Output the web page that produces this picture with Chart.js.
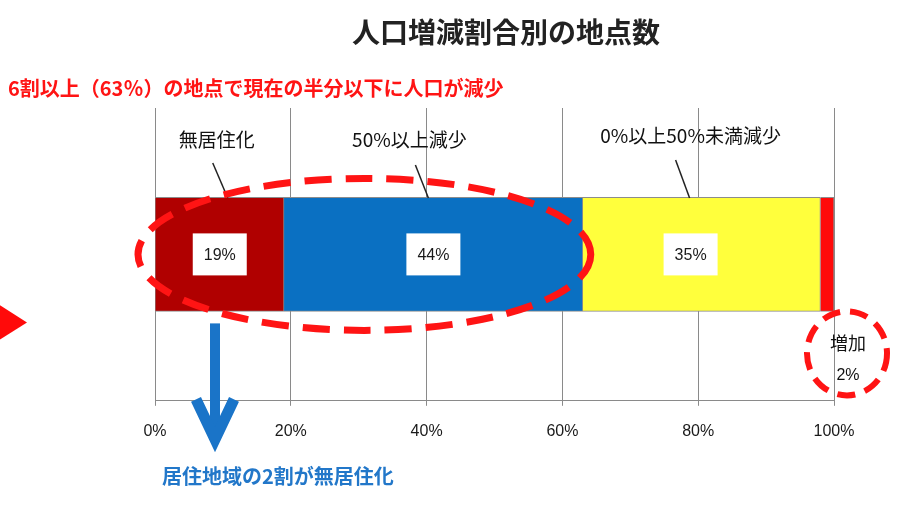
<!DOCTYPE html>
<html lang="ja">
<head>
  <meta charset="UTF-8">
  <title>人口増減割合別の地点数</title>
  <script src="https://cdn.jsdelivr.net/npm/chart.js"></script>
  <style>
    html, body { margin: 0; padding: 0; background: #fff; }
  </style>
</head>
<body>
  <canvas id="popChart" width="903" height="513"></canvas>

  <script>
    const categories = [''];
    const seriesNames = ['無居住化', '50%以上減少', '0%以上50%未満減少', '増加'];
    const seriesValues = [19, 44, 35, 2];
    const seriesColors = ['#b00000', '#0a70c2', '#ffff3c', '#ff0a0a'];
    const xTicks = [0, 20, 40, 60, 80, 100];

    const titleText = '人口増減割合別の地点数';
    const redNote = '6割以上（63％）の地点で現在の半分以下に人口が減少';
    const blueNote = '居住地域の2割が無居住化';
    const increaseNote = ['増加', '2%'];

    const JP = '"Noto Sans CJK JP", "Noto Sans", sans-serif';
    const LAT = '"Liberation Sans", Arial, sans-serif';

    // callouts: label offset from the segment centre, and leader line ends
    const callouts = [
      { dx: -3, y: 140, line: [-7, 163, 8, 198] },
      { dx: -24, y: 140, line: [-18, 165, -5, 198] },
      { dx: -11, y: 136, line: [-26, 160, -12, 198] },
    ];
    const valueBoxShift = [0, 0, -11];

    const overlay = {
      id: 'overlay',
      afterDatasetsDraw(chart) {
        const ctx = chart.ctx;
        const xs = chart.scales.x;
        ctx.save();

        // value boxes and callouts
        seriesValues.forEach((v, i) => {
          if (i >= callouts.length) return;
          const bar = chart.getDatasetMeta(i).data[0];
          const cx = (bar.x + bar.base) / 2;
          const bx = cx + valueBoxShift[i];
          const cy = bar.y;

          ctx.fillStyle = '#fff';
          ctx.fillRect(bx - 27, cy - 21, 54, 42);
          ctx.fillStyle = '#1a1a1a';
          ctx.font = '16px ' + LAT;
          ctx.textAlign = 'center';
          ctx.textBaseline = 'middle';
          ctx.fillText(v + '%', bx, cy + 1);

          const c = callouts[i];
          ctx.font = '19px ' + JP;
          ctx.fillStyle = '#111';
          ctx.fillText(seriesNames[i], cx + c.dx, c.y);
          ctx.strokeStyle = '#222';
          ctx.lineWidth = 1.5;
          ctx.beginPath();
          ctx.moveTo(cx + c.line[0], c.line[1]);
          ctx.lineTo(cx + c.line[2], c.line[3]);
          ctx.stroke();
        });

        const bar0 = chart.getDatasetMeta(0).data[0];
        const half = bar0.height / 2;
        const bottom = bar0.y + half;

        // dashed ellipse round the two heavy-loss segments
        ctx.strokeStyle = '#ff1414';
        ctx.lineWidth = 7;
        ctx.setLineDash([27, 14]);
        const left = xs.getPixelForValue(0) - 17;
        const right = xs.getPixelForValue(seriesValues[0] + seriesValues[1]) + 8;
        ctx.beginPath();
        ctx.ellipse((left + right) / 2, bar0.y, (right - left) / 2, half + 19, 0, 0, Math.PI * 2);
        ctx.stroke();

        // dashed circle round the increase note
        const ix = xs.getPixelForValue(100) + 13;
        const iy = bottom + 42;
        ctx.setLineDash([18, 10]);
        ctx.lineWidth = 6;
        ctx.beginPath();
        ctx.ellipse(ix, iy, 40, 42, 0, 0, Math.PI * 2);
        ctx.stroke();
        ctx.setLineDash([]);
        ctx.fillStyle = '#111';
        ctx.font = '18px ' + JP;
        ctx.textAlign = 'center';
        ctx.fillText(increaseNote[0], ix + 1, iy - 10);
        ctx.font = '16px ' + LAT;
        ctx.fillText(increaseNote[1], ix + 1, iy + 22);

        // blue arrow under the first segment
        const ax = xs.getPixelForValue(0) + 60;
        ctx.strokeStyle = '#1a74c8';
        ctx.fillStyle = '#1a74c8';
        ctx.fillRect(ax - 5, bottom + 12, 10, 118);
        ctx.lineWidth = 11;
        ctx.lineJoin = 'miter';
        ctx.beginPath();
        ctx.moveTo(ax - 19, bottom + 88);
        ctx.lineTo(ax, bottom + 128);
        ctx.lineTo(ax + 19, bottom + 88);
        ctx.stroke();

        // red pointer on the left edge
        ctx.fillStyle = '#ff0a0a';
        ctx.beginPath();
        ctx.moveTo(-6, bar0.y + 47);
        ctx.lineTo(27, bar0.y + 68);
        ctx.lineTo(-6, bar0.y + 89);
        ctx.closePath();
        ctx.fill();

        // headings and notes
        ctx.textBaseline = 'middle';
        ctx.fillStyle = '#222';
        ctx.font = 'bold 28px ' + JP;
        ctx.textAlign = 'center';
        ctx.fillText(titleText, 506, 32);

        ctx.textAlign = 'left';
        ctx.fillStyle = '#ff1414';
        ctx.font = 'bold 20px ' + JP;
        ctx.fillText(redNote, 8, 88);

        ctx.fillStyle = '#2277c9';
        ctx.font = 'bold 20px ' + JP;
        ctx.fillText(blueNote, 162, 476);

        ctx.restore();
      }
    };

    new Chart(document.getElementById('popChart').getContext('2d'), {
      type: 'bar',
      data: {
        labels: categories,
        datasets: seriesNames.map((name, i) => ({
          label: name,
          data: [seriesValues[i]],
          backgroundColor: seriesColors[i],
          borderColor: '#8c8c8c',
          borderWidth: 1,
          barThickness: 114,
        })),
      },
      options: {
        indexAxis: 'y',
        responsive: false,
        animation: false,
        layout: { padding: { left: 155, right: 69, top: 108, bottom: 56 } },
        plugins: {
          legend: { display: false },
          tooltip: { enabled: false },
        },
        scales: {
          x: {
            stacked: true,
            min: 0,
            max: 100,
            afterBuildTicks: (scale) => { scale.ticks = xTicks.map(v => ({ value: v })); },
            ticks: {
              callback: (v) => v + '%',
              color: '#1a1a1a',
              font: { family: LAT, size: 16 },
              padding: 16,
            },
            grid: { color: '#8a8a8a', tickLength: 5, lineWidth: 1 },
            border: { color: '#8a8a8a' },
          },
          y: { stacked: true, display: false },
        },
      },
      plugins: [overlay],
    });
  </script>
</body>
</html>
